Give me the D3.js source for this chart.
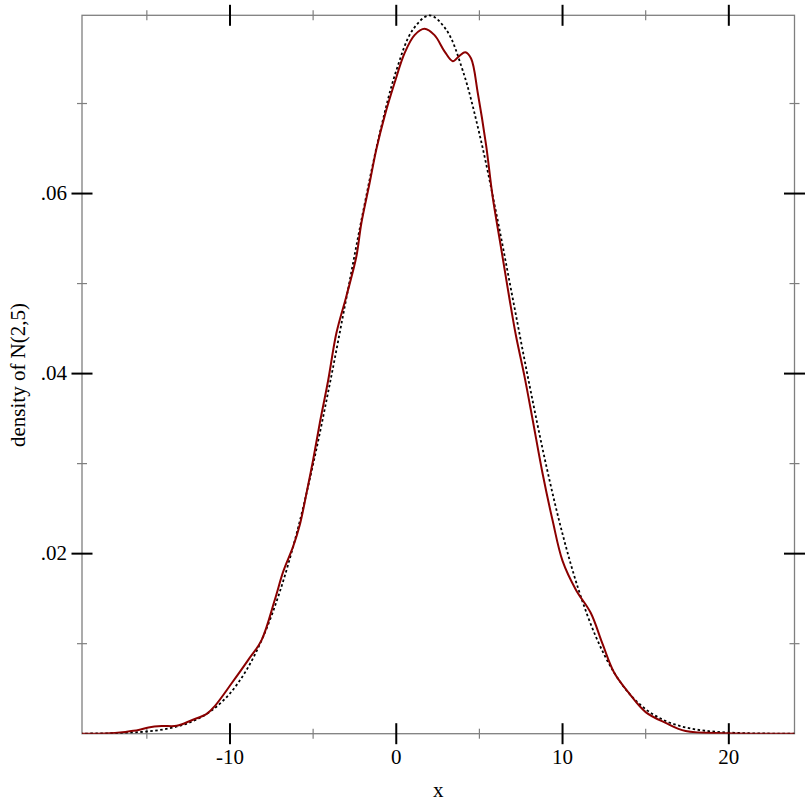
<!DOCTYPE html>
<html>
<head>
<meta charset="utf-8">
<script src="https://cdn.jsdelivr.net/npm/d3@7"></script>
<style>
  body { margin: 0; background: #fff; }
  text { font-family: "Liberation Serif", "DejaVu Serif", serif; font-size: 21px; fill: #000; }
</style>
</head>
<body>
<script>
// density plot: sample kde (red) vs N(2,5) pdf (dashed)

// x positions the dashed pdf was read at, and its height there
var pdfX = [-19, -18, -17, -16, -15, -14, -13, -12, -11, -10, -9, -8, -7, -6, -5, -4, -3, -2, -1,
            0, 1, 2, 3, 4, 5, 6, 7, 8, 9, 10, 11, 12, 13, 14, 15, 16, 17, 18, 19, 20, 21, 22, 23, 24];
var pdfY = [0.000012, 0.000027, 0.000058, 0.000122, 0.000246, 0.000477, 0.000886, 0.001583, 0.002717,
            0.004479, 0.007095, 0.010798, 0.015790, 0.022184, 0.029945, 0.038837, 0.048394, 0.057938,
            0.066644, 0.073654, 0.078209, 0.079788, 0.078209, 0.073654, 0.066644, 0.057938, 0.048394,
            0.038837, 0.029945, 0.022184, 0.015790, 0.010798, 0.007095, 0.004479, 0.002717, 0.001583,
            0.000886, 0.000477, 0.000246, 0.000122, 0.000058, 0.000027, 0.000012, 0.000005];

// red kernel density
var kdeX = [-18.9, -17.5, -16.3, -15.5, -14.9, -14.1, -13.2, -12.3, -11.4, -10.9, -9.9, -8.9, -8.1,
            -7.3, -6.8, -6.2, -5.8, -5.4, -5.0, -4.6, -4.1, -3.6, -3.0, -2.4, -2.1, -1.6, -1.2, -0.7,
            -0.1, 0.5, 1.1, 1.7, 2.3, 2.9, 3.4, 3.8, 4.15, 4.5, 4.9, 5.4, 5.8, 6.3, 6.8, 7.2, 7.7, 8.2,
            8.8, 9.4, 10.0, 10.8, 11.7, 12.4, 13.1, 14.0, 15.0, 16.2, 17.4, 19.9, 23.95];
var kdeY = [0.0, 0.00003, 0.0002, 0.0004, 0.0007, 0.00086, 0.00088, 0.0015, 0.0022, 0.0031, 0.0056,
            0.0082, 0.0104, 0.0149, 0.0180, 0.0208, 0.0232, 0.0267, 0.0304, 0.0345, 0.0392, 0.0445,
            0.0486, 0.0530, 0.0567, 0.0612, 0.0649, 0.0686, 0.0723, 0.0756, 0.0776, 0.0783, 0.0776,
            0.0758, 0.0747, 0.0753, 0.0757, 0.0750, 0.0712, 0.0654, 0.0596, 0.0540, 0.0484, 0.0442,
            0.0398, 0.0349, 0.0289, 0.0237, 0.0192, 0.0160, 0.0134, 0.0100, 0.0068, 0.0045, 0.0024,
            0.0012, 0.0003, 0.00005, 0.0];

var xMajor = [-10, 0, 10, 20];
var xMinor = [-15, -5, 5, 15];
var yMajor = [0.02, 0.04, 0.06];
var yMinor = [0.01, 0.03, 0.05, 0.07];
var yTickLabels = ['.02', '.04', '.06'];

var xDomain = [-18.9, 23.95];
var yDomain = [0, 0.0798];

// note: can't call these top/left etc at global scope, window.top is read-only
var width = 812, height = 812;
var plotL = 82, plotR = 794.5, plotT = 15.3, plotB = 733.7;

var svg = d3.select('body').append('svg')
    .attr('width', width)
    .attr('height', height);

var x = d3.scaleLinear().domain(xDomain).range([plotL, plotR]);
var y = d3.scaleLinear().domain(yDomain).range([plotB, plotT]);

// frame
svg.append('rect')
    .attr('x', plotL).attr('y', plotT)
    .attr('width', plotR - plotL).attr('height', plotB - plotT)
    .attr('fill', 'none')
    .attr('stroke', '#7f7f7f')
    .attr('stroke-width', 1.3);

// ticks on all four sides, major ones black and longer
function drawTicks(vals, scale, horizontal, len, color, sw){
    vals.forEach(function(v){
        var p = scale(v);
        if (horizontal) {
            [plotB, plotT].forEach(function(edge){
                svg.append('line')
                    .attr('x1', p).attr('x2', p)
                    .attr('y1', edge - len).attr('y2', edge + len)
                    .attr('stroke', color).attr('stroke-width', sw);
            });
        } else {
            [plotL, plotR].forEach(function(edge){
                svg.append('line')
                    .attr('y1', p).attr('y2', p)
                    .attr('x1', edge - len).attr('x2', edge + len)
                    .attr('stroke', color).attr('stroke-width', sw);
            });
        }
    });
}
drawTicks(xMinor, x, true, 5, '#7f7f7f', 1.2);
drawTicks(yMinor, y, false, 5, '#7f7f7f', 1.2);
drawTicks(xMajor, x, true, 10.5, '#000', 2);
drawTicks(yMajor, y, false, 10.5, '#000', 2);

// tick labels
svg.selectAll('.xlab').data(xMajor).enter().append('text')
    .attr('x', function(d){ return x(d); })
    .attr('y', 764)
    .attr('text-anchor', 'middle')
    .text(function(d){ return d; });

svg.selectAll('.ylab').data(yMajor).enter().append('text')
    .attr('x', 67)
    .attr('y', function(d){ return y(d) + 6; })
    .attr('text-anchor', 'end')
    .text(function(d, i){ return yTickLabels[i]; });

// axis titles
svg.append('text')
    .attr('x', (plotL + plotR) / 2)
    .attr('y', 797)
    .attr('text-anchor', 'middle')
    .text('x');

svg.append('text')
    .attr('transform', 'translate(24.5,' + ((plotT + plotB) / 2 + 0.5) + ') rotate(-90)')
    .attr('text-anchor', 'middle')
    .text('density of N(2,5)');

// curves, clipped to the plot area
svg.append('clipPath').attr('id', 'plotClip')
    .append('rect')
    .attr('x', plotL).attr('y', plotT - 2)
    .attr('width', plotR - plotL).attr('height', plotB - plotT + 2);

var pdfPts = pdfX.map(function(v, i){ return [v, pdfY[i]]; });
var kdePts = kdeX.map(function(v, i){ return [v, kdeY[i]]; });

var line = d3.line()
    .x(function(d){ return x(d[0]); })
    .y(function(d){ return y(d[1]); })
    .curve(d3.curveCatmullRom.alpha(0.5));

var g = svg.append('g').attr('clip-path', 'url(#plotClip)');

g.append('path')
    .attr('d', line(pdfPts))
    .attr('fill', 'none')
    .attr('stroke', '#000')
    .attr('stroke-width', 1.8)
    .attr('stroke-dasharray', '2.5,2.5');

g.append('path')
    .attr('d', line(kdePts))
    .attr('fill', 'none')
    .attr('stroke', '#8b0000')
    .attr('stroke-width', 2);
</script>
</body>
</html>
